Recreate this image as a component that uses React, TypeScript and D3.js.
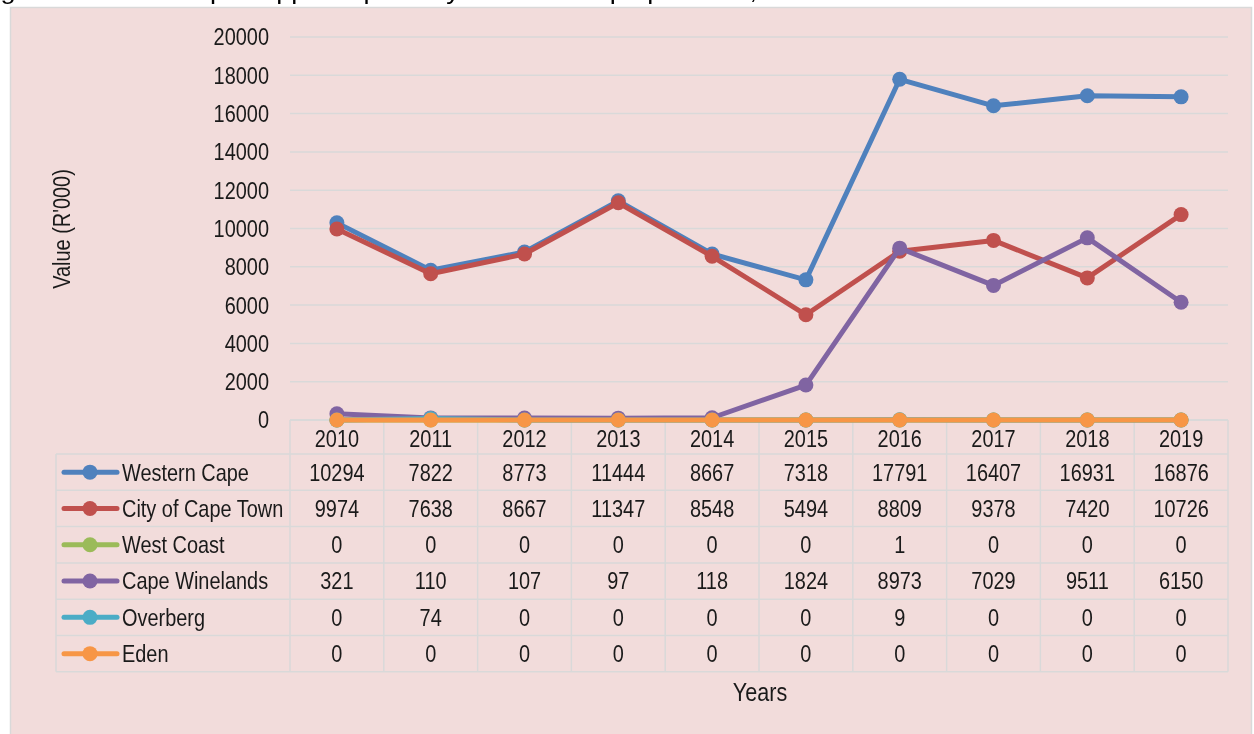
import React, { useEffect, useRef } from 'react';
import * as d3 from 'd3';

const years = ['2010', '2011', '2012', '2013', '2014', '2015', '2016', '2017', '2018', '2019'];
const seriesNames = ['Western Cape', 'City of Cape Town', 'West Coast', 'Cape Winelands', 'Overberg', 'Eden'];
const westernCape = [10294, 7822, 8773, 11444, 8667, 7318, 17791, 16407, 16931, 16876];
const cityOfCapeTown = [9974, 7638, 8667, 11347, 8548, 5494, 8809, 9378, 7420, 10726];
const westCoast = [0, 0, 0, 0, 0, 0, 1, 0, 0, 0];
const capeWinelands = [321, 110, 107, 97, 118, 1824, 8973, 7029, 9511, 6150];
const overberg = [0, 74, 0, 0, 0, 0, 9, 0, 0, 0];
const eden = [0, 0, 0, 0, 0, 0, 0, 0, 0, 0];
const colors = ['#4f81bd', '#c0504d', '#9bbb59', '#8064a2', '#4bacc6', '#f79646'];
const yTicks = [0, 2000, 4000, 6000, 8000, 10000, 12000, 14000, 16000, 18000, 20000];

const FONT = '"Liberation Sans", Arial, sans-serif';
const NARROW = 0.83;

// narrow text: Arial Narrow is not installed, so squeeze Liberation Sans
function narrowText(parent: any, x: number, y: number, str: string, size: number, anchor = 'start', rotate = 0) {
  const g = parent.append('g')
    .attr('transform', `translate(${x},${y}) rotate(${rotate}) scale(${NARROW},1)`);
  g.append('text')
    .attr('dy', '0.35em')
    .attr('text-anchor', anchor)
    .attr('font-family', FONT)
    .attr('font-size', size)
    .attr('fill', '#1a1a1a')
    .text(str);
  return g;
}

const App = () => {
  const ref = useRef<SVGSVGElement>(null);

  useEffect(() => {
    const width = 1254;
    const height = 734;
    const svg = d3.select(ref.current).attr('width', width).attr('height', height);
    svg.selectAll('*').remove();

    const allSeries = [westernCape, cityOfCapeTown, westCoast, capeWinelands, overberg, eden];

    // background box
    svg.append('rect').attr('width', width).attr('height', height).attr('fill', '#ffffff');
    svg.append('rect')
      .attr('x', 10.5).attr('y', 7.5)
      .attr('width', 1241).attr('height', 740)
      .attr('fill', '#f2dcdb').attr('stroke', '#d9d9d9').attr('stroke-width', 1.5);

    // caption, cut off by the top edge as in the source
    svg.append('text')
      .attr('x', -22).attr('y', -1)
      .attr('font-family', FONT).attr('font-size', 24).attr('fill', '#000')
      .attr('textLength', 937).attr('lengthAdjust', 'spacingAndGlyphs')
      .text('Figure 11: Value of pineapple exports by Western Cape province, 2010 – 2019');

    const left = 290;
    const right = 1228;
    const top = 37;
    const bottom = 420;

    const x = d3.scaleBand().domain(years).range([left, right]);
    const y = d3.scaleLinear().domain([0, 20000]).range([bottom, top]);
    const cx = (i: number) => (x(years[i]) as number) + x.bandwidth() / 2;

    // gridlines
    svg.append('g').selectAll('line').data(yTicks).enter().append('line')
      .attr('x1', left).attr('x2', right)
      .attr('y1', d => y(d)).attr('y2', d => y(d))
      .attr('stroke', '#d9d9d9').attr('stroke-width', 1.5);

    // y tick labels
    const yLab = svg.append('g');
    yTicks.forEach(t => narrowText(yLab, 269, y(t), String(t), 24, 'end'));

    // y axis title
    narrowText(svg, 62, 229, "Value (R'000)", 24, 'middle', -90);

    // data table
    const tableLeft = 56;
    const headerBottom = 454;
    const rowH = 36.3;
    const tableBottom = headerBottom + rowH * seriesNames.length;
    const grid = svg.append('g').attr('stroke', '#d9d9d9').attr('stroke-width', 1.5).attr('fill', 'none');
    d3.range(years.length + 1).forEach(i => {
      const xx = left + i * x.bandwidth();
      grid.append('line').attr('x1', xx).attr('x2', xx).attr('y1', bottom).attr('y2', tableBottom);
    });
    grid.append('line').attr('x1', tableLeft).attr('x2', tableLeft).attr('y1', headerBottom).attr('y2', tableBottom);
    grid.append('line').attr('x1', left).attr('x2', right).attr('y1', bottom).attr('y2', bottom);
    d3.range(seriesNames.length + 1).forEach(i => {
      const yy = headerBottom + i * rowH;
      grid.append('line').attr('x1', tableLeft).attr('x2', right).attr('y1', yy).attr('y2', yy);
    });

    // year header
    const hdr = svg.append('g');
    years.forEach((yr, i) => narrowText(hdr, cx(i), (bottom + headerBottom) / 2 + 2, yr, 24, 'middle'));

    // table rows
    seriesNames.forEach((name, si) => {
      const cy = headerBottom + rowH * si + rowH / 2;
      const row = svg.append('g');
      row.append('line').attr('x1', 64).attr('x2', 117).attr('y1', cy).attr('y2', cy)
        .attr('stroke', colors[si]).attr('stroke-width', 5).attr('stroke-linecap', 'round');
      row.append('circle').attr('cx', 90).attr('cy', cy).attr('r', 7.5).attr('fill', colors[si]);
      narrowText(row, 122, cy, name, 24);
      allSeries[si].forEach((v, i) => narrowText(row, cx(i), cy, String(v), 24, 'middle'));
    });

    // lines and markers
    const line = d3.line<number>()
      .x((_, i) => cx(i))
      .y(d => y(d));
    allSeries.forEach((vals, si) => {
      const g = svg.append('g');
      g.append('path').datum(vals).attr('d', line)
        .attr('fill', 'none').attr('stroke', colors[si]).attr('stroke-width', 5)
        .attr('stroke-linejoin', 'round');
      g.selectAll('circle').data(vals).enter().append('circle')
        .attr('cx', (_, i) => cx(i))
        .attr('cy', d => y(d))
        .attr('r', 7.5)
        .attr('fill', colors[si]);
    });

    // x axis title
    narrowText(svg, 760, 692, 'Years', 26, 'middle');
  }, []);

  return (
    <div style={{ position: 'fixed', left: 0, top: 0, width: 1254, height: 734, overflow: 'hidden' }}>
      <svg ref={ref} style={{ display: 'block' }}></svg>
    </div>
  );
};

export default App;
